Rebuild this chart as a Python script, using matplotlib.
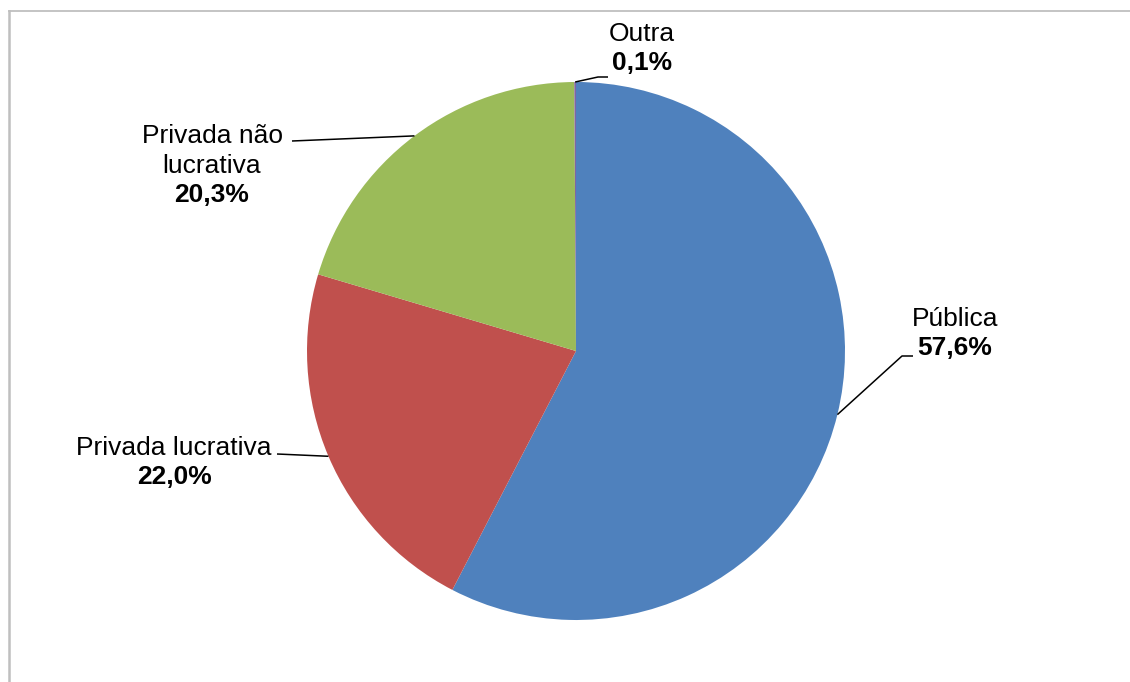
import numpy as np
import matplotlib.pyplot as plt
from matplotlib.lines import Line2D

plt.rcParams['font.family'] = ['Liberation Sans', 'DejaVu Sans']

categorias = ['Pública', 'Privada lucrativa', 'Privada não\nlucrativa', 'Outra']
valores = [57.6, 22.0, 20.3, 0.1]
cores = ['#4F81BD', '#C0504D', '#9BBB59', '#8064A2']

W, H = 1130, 682
fig = plt.figure(figsize=(W / 100, H / 100), dpi=100)
ax = fig.add_axes([0, 0, 1, 1])

cx, cy, r = 576, H - 351, 269
wedges, _ = ax.pie(valores, colors=cores, startangle=90, counterclock=False,
                   center=(cx, cy), radius=r, frame=True,
                   wedgeprops=dict(linewidth=0))
ax.set_xlim(0, W)
ax.set_ylim(0, H)
ax.axis('off')

# centro da primeira linha do rótulo e pontos da linha guia
rotulos = [
    dict(txt=(955, 319), dobra=[(902, 356), (913, 356)]),
    dict(txt=(174, 448), dobra=[(277, 454)]),
    dict(txt=(212, 136), dobra=[(292, 141)]),
    dict(txt=(642, 34), dobra=[(598, 77), (608, 77)]),
]

for w, nome, v, rot in zip(wedges, categorias, valores, rotulos):
    ang = np.deg2rad((w.theta1 + w.theta2) / 2)
    px, py = cx + r * np.cos(ang), cy + r * np.sin(ang)
    xs = [px] + [p[0] for p in rot['dobra']]
    ys = [py] + [H - p[1] for p in rot['dobra']]
    ax.plot(xs, ys, color='black', lw=1.1, solid_capstyle='butt')

    tx, ty = rot['txt']
    for linha in nome.split('\n'):
        ax.text(tx, H - ty, linha, ha='center', va='center', fontsize=19,
                color='black')
        ty += 30
    ax.text(tx, H - (ty - 1), f'{v:.1f}'.replace('.', ',') + '%',
            ha='center', va='center', fontsize=19, fontweight='bold',
            color='black')

# moldura cinza (topo e lado esquerdo)
fig.add_artist(Line2D([8.5 / W, 1], [1 - 11 / H, 1 - 11 / H],
                      transform=fig.transFigure, color='#BFBFBF', lw=1.3))
fig.add_artist(Line2D([8.5 / W, 8.5 / W], [0, 1 - 11 / H],
                      transform=fig.transFigure, color='#BFBFBF', lw=1.8))

fig.savefig('out.png', dpi=100)
